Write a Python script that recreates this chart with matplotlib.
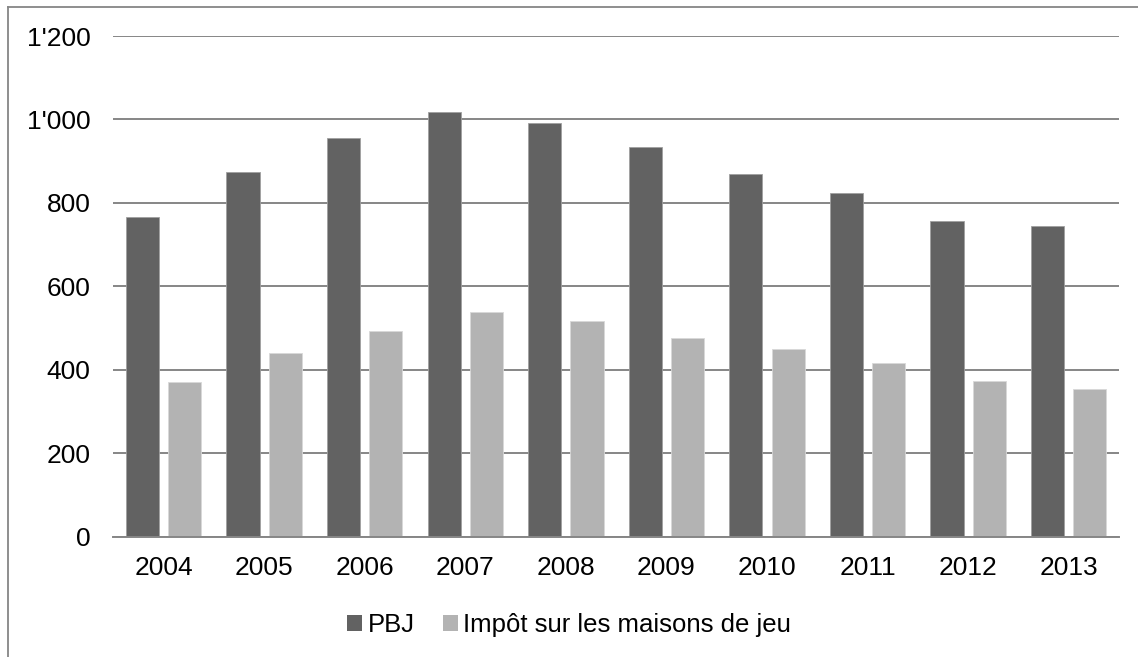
import matplotlib.pyplot as plt
from matplotlib.ticker import FuncFormatter
from matplotlib.patches import Patch
from matplotlib.lines import Line2D
import numpy as np

# ----------------------------
# Data
# ----------------------------
years = ['2004', '2005', '2006', '2007', '2008', '2009', '2010', '2011', '2012', '2013']
pbj = [767, 874, 955, 1019, 991, 935, 869, 823, 757, 745]
impot = [370, 441, 494, 538, 516, 477, 449, 417, 373, 355]
series_names = ['PBJ', 'Impôt sur les maisons de jeu']
yticks = [0, 200, 400, 600, 800, 1000, 1200]

dark = '#626262'
light = '#b3b3b3'
grid_col = '#868686'

plt.rcParams['font.family'] = ['Liberation Sans', 'DejaVu Sans']

fig = plt.figure(figsize=(11.38, 6.57), dpi=100)
ax = fig.add_axes([0.0996, 0.1831, 0.8837, 0.7621])

x = np.arange(len(years))
w = 0.33
ax.bar(x - 0.21, pbj, width=w, color=dark, edgecolor='#a0a0a0', linewidth=0.6, zorder=3)
ax.bar(x + 0.21, impot, width=w, color=light, edgecolor='#d8d8d8', linewidth=0.6, zorder=3)

ax.set_xlim(-0.5, len(years) - 0.5)
ax.set_ylim(0, 1200)
ax.set_yticks(yticks)
ax.yaxis.set_major_formatter(FuncFormatter(lambda v, p: f"{int(v):,}".replace(',', "'")))
ax.set_xticks(x)
ax.set_xticklabels(years)
ax.tick_params(axis='both', length=0, labelsize=19, colors='black')
ax.tick_params(axis='y', pad=16.5)
ax.tick_params(axis='x', pad=14)

ax.grid(axis='y', color=grid_col, linewidth=1.4, zorder=0)
for s in ['top', 'right', 'left']:
    ax.spines[s].set_visible(False)
ax.spines['bottom'].set_color(grid_col)
ax.spines['bottom'].set_linewidth(1.4)
ax.spines['bottom'].set_zorder(4)

handles = [Patch(facecolor=dark, edgecolor='none'), Patch(facecolor=light, edgecolor='none')]
fig.legend(handles, series_names, loc='center', bbox_to_anchor=(0.5, 1 - 625 / 657),
           ncol=2, frameon=False, fontsize=18.5, handlelength=0.58, handleheight=0.58,
           handletextpad=0.2, columnspacing=1.1)

# outer frame (left and top edges only visible)
fig.add_artist(Line2D([8 / 1138, 8 / 1138], [0, 1 - 7 / 657], color=grid_col, linewidth=1.3))
fig.add_artist(Line2D([8 / 1138, 1], [1 - 7 / 657, 1 - 7 / 657], color=grid_col, linewidth=1.3))

fig.savefig('out.png', dpi=100)
